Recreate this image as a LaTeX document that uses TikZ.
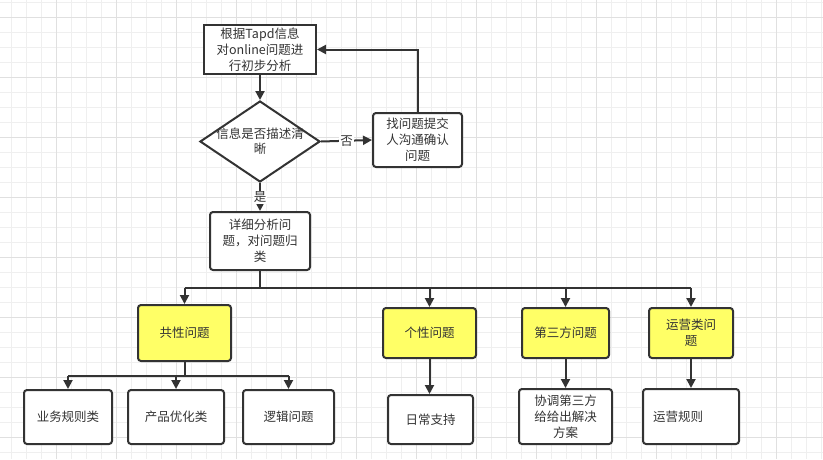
\documentclass[tikz,border=0pt]{standalone}
\usepackage{fontspec}
\setmainfont{Noto Sans CJK SC}
\usetikzlibrary{arrows.meta,shapes.geometric}
\definecolor{ln}{HTML}{333333}
\definecolor{yel}{HTML}{FFFF66}
\definecolor{gmin}{HTML}{EFEFEF}
\definecolor{gmaj}{HTML}{E0E0E0}
\begin{document}
\begin{tikzpicture}[x=1pt,y=-1pt,
  every node/.style={text=ln,font=\fontsize{12.5}{16}\selectfont},
  box/.style={draw=ln,line width=2pt,fill=white,rounded corners=3pt,inner sep=0pt,align=center},
  sq/.style={box,rounded corners=0pt},
  ybox/.style={box,fill=yel},
  arr/.style={draw=ln,line width=2pt,-{Triangle[length=9pt,width=9pt]}},
  con/.style={draw=ln,line width=2pt},
  lab/.style={fill=white,inner sep=1pt}]
\useasboundingbox (0,0) rectangle (823,459);
\fill[white] (0,0) rectangle (823,459);
% grid
\foreach \i in {0,...,54} {\draw[gmin,line width=1pt] ({11.7+15*\i},0) -- ++(0,459);}
\foreach \i in {0,...,30} {\draw[gmin,line width=1pt] (0,{2.3+15*\i}) -- ++(823,0);}
\foreach \i in {0,...,13} {\draw[gmaj,line width=1pt] ({56.7+60*\i},0) -- ++(0,459);}
\foreach \i in {0,...,7} {\draw[gmaj,line width=1pt] (0,{17.3+60*\i}) -- ++(823,0);}

% nodes
\node[sq,minimum width=112pt,minimum height=49pt] (A) at (260,49.5) {根据Tapd信息\\对online问题进\\行初步分析};
\node[diamond,draw=ln,line width=2pt,fill=white,inner sep=0pt,minimum width=120pt,minimum height=81pt,
  label={[align=center,font=\fontsize{12.5}{15}\selectfont]center:信息是否描述清\\晰}] (D) at (260,141.5) {};
\node[box,minimum width=89pt,minimum height=54pt] (B) at (417.5,140) {找问题提交\\人沟通确认\\问题};
\node[box,minimum width=100pt,minimum height=58pt] (C) at (260,241) {详细分析问\\题，对问题归\\类};

\node[ybox,minimum width=93pt,minimum height=56pt] (G1) at (184.5,333) {共性问题};
\node[ybox,minimum width=93pt,minimum height=50pt] (G2) at (429.5,333) {个性问题};
\node[ybox,minimum width=87pt,minimum height=50pt] (G3) at (565.5,333) {第三方问题};
\node[ybox,minimum width=84pt,minimum height=50pt] (G4) at (691,333) {运营类问\\题};

\node[box,minimum width=88pt,minimum height=54pt] (L1) at (68,417) {业务规则类};
\node[box,minimum width=96pt,minimum height=54pt] (L2) at (176,417) {产品优化类};
\node[box,minimum width=91pt,minimum height=54pt] (L3) at (288.5,417) {逻辑问题};
\node[box,minimum width=85pt,minimum height=49pt] (L4) at (430.5,419.5) {日常支持};
\node[box,minimum width=93pt,minimum height=55pt] (L5) at (565.5,416.5) {协调第三方\\给给出解决\\方案};
\node[box,minimum width=96pt,minimum height=55pt] (L6) at (691,416.5) {运营规则\hspace*{26pt}};

% connectors
\draw[arr] (A.south) -- (D.north);
\draw[arr] (D.east) -- node[lab] {否} (B.west);
\draw[arr] (B.north) |- (A.east);
\draw[arr] (D.south) -- node[lab] {是} (C.north);

\coordinate (bus) at (260,288);
\draw[con] (C.south) -- (bus);
\draw[con] (bus -| G1.north) -- (bus -| G4.north);
\foreach \g in {G1,G2,G3,G4} {\draw[arr] (bus -| \g.north) -- (\g.north);}

\coordinate (bus2) at (184.5,376);
\draw[con] (G1.south) -- (bus2);
\draw[con] (bus2 -| L1.north) -- (bus2 -| L3.north);
\foreach \l in {L1,L2,L3} {\draw[arr] (bus2 -| \l.north) -- (\l.north);}

\draw[arr] (G2.south) -- (G2.south |- L4.north);
\draw[arr] (G3.south) -- (L5.north);
\draw[arr] (G4.south) -- (L6.north);
\end{tikzpicture}
\end{document}
